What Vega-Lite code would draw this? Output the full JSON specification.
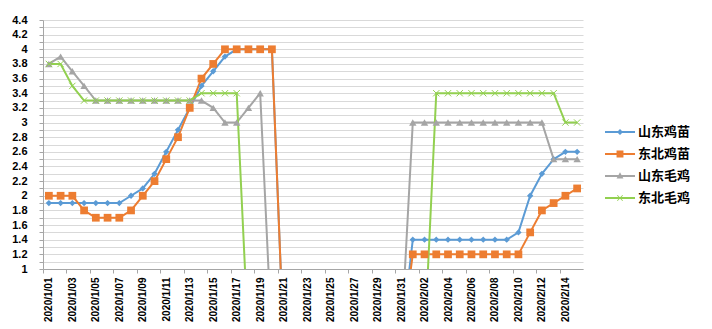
{
  "$schema": "https://vega.github.io/schema/vega-lite/v6.json",
  "width": 540,
  "height": 249,
  "autosize": {"type": "none"},
  "padding": {"left": 43, "top": 20, "right": 129, "bottom": 60},
  "background": "white",
  "config": {
    "view": {"stroke": null},
    "font": "Liberation Sans"
  },
  "data": {
    "values": [
      {"date": "2020/1/01", "山东鸡苗": 1.9, "东北鸡苗": 2.0, "山东毛鸡": 3.8, "东北毛鸡": 3.8},
      {"date": "2020/1/02", "山东鸡苗": 1.9, "东北鸡苗": 2.0, "山东毛鸡": 3.9, "东北毛鸡": 3.8},
      {"date": "2020/1/03", "山东鸡苗": 1.9, "东北鸡苗": 2.0, "山东毛鸡": 3.7, "东北毛鸡": 3.5},
      {"date": "2020/1/04", "山东鸡苗": 1.9, "东北鸡苗": 1.8, "山东毛鸡": 3.5, "东北毛鸡": 3.3},
      {"date": "2020/1/05", "山东鸡苗": 1.9, "东北鸡苗": 1.7, "山东毛鸡": 3.3, "东北毛鸡": 3.3},
      {"date": "2020/1/06", "山东鸡苗": 1.9, "东北鸡苗": 1.7, "山东毛鸡": 3.3, "东北毛鸡": 3.3},
      {"date": "2020/1/07", "山东鸡苗": 1.9, "东北鸡苗": 1.7, "山东毛鸡": 3.3, "东北毛鸡": 3.3},
      {"date": "2020/1/08", "山东鸡苗": 2.0, "东北鸡苗": 1.8, "山东毛鸡": 3.3, "东北毛鸡": 3.3},
      {"date": "2020/1/09", "山东鸡苗": 2.1, "东北鸡苗": 2.0, "山东毛鸡": 3.3, "东北毛鸡": 3.3},
      {"date": "2020/1/10", "山东鸡苗": 2.3, "东北鸡苗": 2.2, "山东毛鸡": 3.3, "东北毛鸡": 3.3},
      {"date": "2020/1/11", "山东鸡苗": 2.6, "东北鸡苗": 2.5, "山东毛鸡": 3.3, "东北毛鸡": 3.3},
      {"date": "2020/1/12", "山东鸡苗": 2.9, "东北鸡苗": 2.8, "山东毛鸡": 3.3, "东北毛鸡": 3.3},
      {"date": "2020/1/13", "山东鸡苗": 3.2, "东北鸡苗": 3.2, "山东毛鸡": 3.3, "东北毛鸡": 3.3},
      {"date": "2020/1/14", "山东鸡苗": 3.5, "东北鸡苗": 3.6, "山东毛鸡": 3.3, "东北毛鸡": 3.4},
      {"date": "2020/1/15", "山东鸡苗": 3.7, "东北鸡苗": 3.8, "山东毛鸡": 3.2, "东北毛鸡": 3.4},
      {"date": "2020/1/16", "山东鸡苗": 3.9, "东北鸡苗": 4.0, "山东毛鸡": 3.0, "东北毛鸡": 3.4},
      {"date": "2020/1/17", "山东鸡苗": 4.0, "东北鸡苗": 4.0, "山东毛鸡": 3.0, "东北毛鸡": 3.4},
      {"date": "2020/1/18", "山东鸡苗": 4.0, "东北鸡苗": 4.0, "山东毛鸡": 3.2, "东北毛鸡": 0},
      {"date": "2020/1/19", "山东鸡苗": 4.0, "东北鸡苗": 4.0, "山东毛鸡": 3.4, "东北毛鸡": 0},
      {"date": "2020/1/20", "山东鸡苗": 4.0, "东北鸡苗": 4.0, "山东毛鸡": 0, "东北毛鸡": 0},
      {"date": "2020/1/21", "山东鸡苗": 0, "东北鸡苗": 0, "山东毛鸡": 0, "东北毛鸡": 0},
      {"date": "2020/1/22", "山东鸡苗": 0, "东北鸡苗": 0, "山东毛鸡": 0, "东北毛鸡": 0},
      {"date": "2020/1/23", "山东鸡苗": 0, "东北鸡苗": 0, "山东毛鸡": 0, "东北毛鸡": 0},
      {"date": "2020/1/24", "山东鸡苗": 0, "东北鸡苗": 0, "山东毛鸡": 0, "东北毛鸡": 0},
      {"date": "2020/1/25", "山东鸡苗": 0, "东北鸡苗": 0, "山东毛鸡": 0, "东北毛鸡": 0},
      {"date": "2020/1/26", "山东鸡苗": 0, "东北鸡苗": 0, "山东毛鸡": 0, "东北毛鸡": 0},
      {"date": "2020/1/27", "山东鸡苗": 0, "东北鸡苗": 0, "山东毛鸡": 0, "东北毛鸡": 0},
      {"date": "2020/1/28", "山东鸡苗": 0, "东北鸡苗": 0, "山东毛鸡": 0, "东北毛鸡": 0},
      {"date": "2020/1/29", "山东鸡苗": 0, "东北鸡苗": 0, "山东毛鸡": 0, "东北毛鸡": 0},
      {"date": "2020/1/30", "山东鸡苗": 0, "东北鸡苗": 0, "山东毛鸡": 0, "东北毛鸡": 0},
      {"date": "2020/1/31", "山东鸡苗": 0, "东北鸡苗": 0, "山东毛鸡": 0, "东北毛鸡": 0},
      {"date": "2020/2/01", "山东鸡苗": 1.4, "东北鸡苗": 1.2, "山东毛鸡": 3.0, "东北毛鸡": 0},
      {"date": "2020/2/02", "山东鸡苗": 1.4, "东北鸡苗": 1.2, "山东毛鸡": 3.0, "东北毛鸡": 0},
      {"date": "2020/2/03", "山东鸡苗": 1.4, "东北鸡苗": 1.2, "山东毛鸡": 3.0, "东北毛鸡": 3.4},
      {"date": "2020/2/04", "山东鸡苗": 1.4, "东北鸡苗": 1.2, "山东毛鸡": 3.0, "东北毛鸡": 3.4},
      {"date": "2020/2/05", "山东鸡苗": 1.4, "东北鸡苗": 1.2, "山东毛鸡": 3.0, "东北毛鸡": 3.4},
      {"date": "2020/2/06", "山东鸡苗": 1.4, "东北鸡苗": 1.2, "山东毛鸡": 3.0, "东北毛鸡": 3.4},
      {"date": "2020/2/07", "山东鸡苗": 1.4, "东北鸡苗": 1.2, "山东毛鸡": 3.0, "东北毛鸡": 3.4},
      {"date": "2020/2/08", "山东鸡苗": 1.4, "东北鸡苗": 1.2, "山东毛鸡": 3.0, "东北毛鸡": 3.4},
      {"date": "2020/2/09", "山东鸡苗": 1.4, "东北鸡苗": 1.2, "山东毛鸡": 3.0, "东北毛鸡": 3.4},
      {"date": "2020/2/10", "山东鸡苗": 1.5, "东北鸡苗": 1.2, "山东毛鸡": 3.0, "东北毛鸡": 3.4},
      {"date": "2020/2/11", "山东鸡苗": 2.0, "东北鸡苗": 1.5, "山东毛鸡": 3.0, "东北毛鸡": 3.4},
      {"date": "2020/2/12", "山东鸡苗": 2.3, "东北鸡苗": 1.8, "山东毛鸡": 3.0, "东北毛鸡": 3.4},
      {"date": "2020/2/13", "山东鸡苗": 2.5, "东北鸡苗": 1.9, "山东毛鸡": 2.5, "东北毛鸡": 3.4},
      {"date": "2020/2/14", "山东鸡苗": 2.6, "东北鸡苗": 2.0, "山东毛鸡": 2.5, "东北毛鸡": 3.0},
      {"date": "2020/2/15", "山东鸡苗": 2.6, "东北鸡苗": 2.1, "山东毛鸡": 2.5, "东北毛鸡": 3.0}
    ]
  },
  "transform": [
    {"fold": ["山东鸡苗", "东北鸡苗", "山东毛鸡", "东北毛鸡"], "as": ["series", "price"]}
  ],
  "encoding": {
    "x": {
      "field": "date",
      "type": "ordinal",
      "sort": null,
      "scale": {"type": "point", "padding": 0.5},
      "axis": {
        "title": null,
        "values": ["2020/1/01", "2020/1/03", "2020/1/05", "2020/1/07", "2020/1/09", "2020/1/11", "2020/1/13", "2020/1/15", "2020/1/17", "2020/1/19", "2020/1/21", "2020/1/23", "2020/1/25", "2020/1/27", "2020/1/29", "2020/1/31", "2020/2/02", "2020/2/04", "2020/2/06", "2020/2/08", "2020/2/10", "2020/2/12", "2020/2/14"],
        "labelAngle": 270,
        "labelFontSize": 10,
        "labelFontWeight": "bold",
        "labelColor": "#000000",
        "labelPadding": 4,
        "labelOverlap": false,
        "tickOffset": -5.87,
        "labelOffset": 5.87,
        "tickSize": 4,
        "tickColor": "#A6A6A6",
        "domainColor": "#A6A6A6",
        "grid": false
      }
    },
    "y": {
      "field": "price",
      "type": "quantitative",
      "scale": {"domain": [1, 4.4], "nice": false, "zero": false},
      "axis": {
        "title": null,
        "values": [1, 1.1, 1.2, 1.3, 1.4, 1.5, 1.6, 1.7, 1.8, 1.9, 2, 2.1, 2.2, 2.3, 2.4, 2.5, 2.6, 2.7, 2.8, 2.9, 3, 3.1, 3.2, 3.3, 3.4, 3.5, 3.6, 3.7, 3.8, 3.9, 4, 4.1, 4.2, 4.3, 4.4],
        "labelExpr": "round(datum.value * 10) % 2 == 0 ? format(datum.value, '~g') : ''",
        "labelFontSize": 11,
        "labelFontWeight": "bold",
        "labelColor": "#000000",
        "labelPadding": 12,
        "tickSize": 4,
        "tickColor": "#A6A6A6",
        "domainColor": "#A6A6A6",
        "grid": true,
        "gridColor": "#D9D9D9",
        "labelOverlap": false
      }
    },
    "color": {
      "field": "series",
      "type": "nominal",
      "scale": {
        "domain": ["山东鸡苗", "东北鸡苗", "山东毛鸡", "东北毛鸡"],
        "range": ["#5B9BD5", "#ED7D31", "#A5A5A5", "#92D050"]
      },
      "legend": {
        "title": null,
        "orient": "none",
        "legendX": 562,
        "legendY": 97,
        "symbolSize": 900,
        "symbolStrokeWidth": 0,
        "labelFont": "Noto Sans CJK SC",
        "labelFontSize": 13,
        "labelFontWeight": "bold",
        "labelColor": "#000000",
        "labelOffset": 3,
        "rowPadding": -2
      }
    }
  },
  "layer": [
    {"mark": {"type": "line", "strokeWidth": 2, "clip": true}},
    {
      "transform": [{"filter": "datum.series === '山东鸡苗'"}],
      "mark": {"type": "point", "shape": "diamond", "filled": true, "size": 40, "opacity": 1, "clip": true}
    },
    {
      "transform": [{"filter": "datum.series === '东北鸡苗'"}],
      "mark": {"type": "point", "shape": "square", "filled": true, "size": 60, "opacity": 1, "clip": true}
    },
    {
      "transform": [{"filter": "datum.series === '山东毛鸡'"}],
      "mark": {"type": "point", "shape": "triangle-up", "filled": true, "size": 55, "opacity": 1, "clip": true}
    },
    {
      "transform": [{"filter": "datum.series === '东北毛鸡'"}],
      "mark": {"type": "point", "shape": "M-1,-1L1,1M-1,1L1,-1", "filled": false, "size": 40, "strokeWidth": 1, "opacity": 1, "clip": true}
    },
    {
      "mark": {"type": "point", "filled": true, "size": 0, "opacity": 1, "clip": true},
      "encoding": {
        "shape": {
          "field": "series",
          "type": "nominal",
          "scale": {
            "domain": ["山东鸡苗", "东北鸡苗", "山东毛鸡", "东北毛鸡"],
            "range": [
              "M-1,-0.067H1V0.067H-1Z M0,-0.2L0.2,0L0,0.2L-0.2,0Z",
              "M-1,-0.067H1V0.067H-1Z M-0.23,-0.23H0.23V0.23H-0.23Z",
              "M-1,-0.067H1V0.067H-1Z M0,-0.25L0.23,0.17L-0.23,0.17Z",
              "M-1,-0.067H1V0.067H-1Z M-0.2,-0.16L-0.16,-0.2L0.2,0.16L0.16,0.2Z M-0.2,0.16L0.16,-0.2L0.2,-0.16L-0.16,0.2Z"
            ]
          }
        }
      }
    }
  ]
}
